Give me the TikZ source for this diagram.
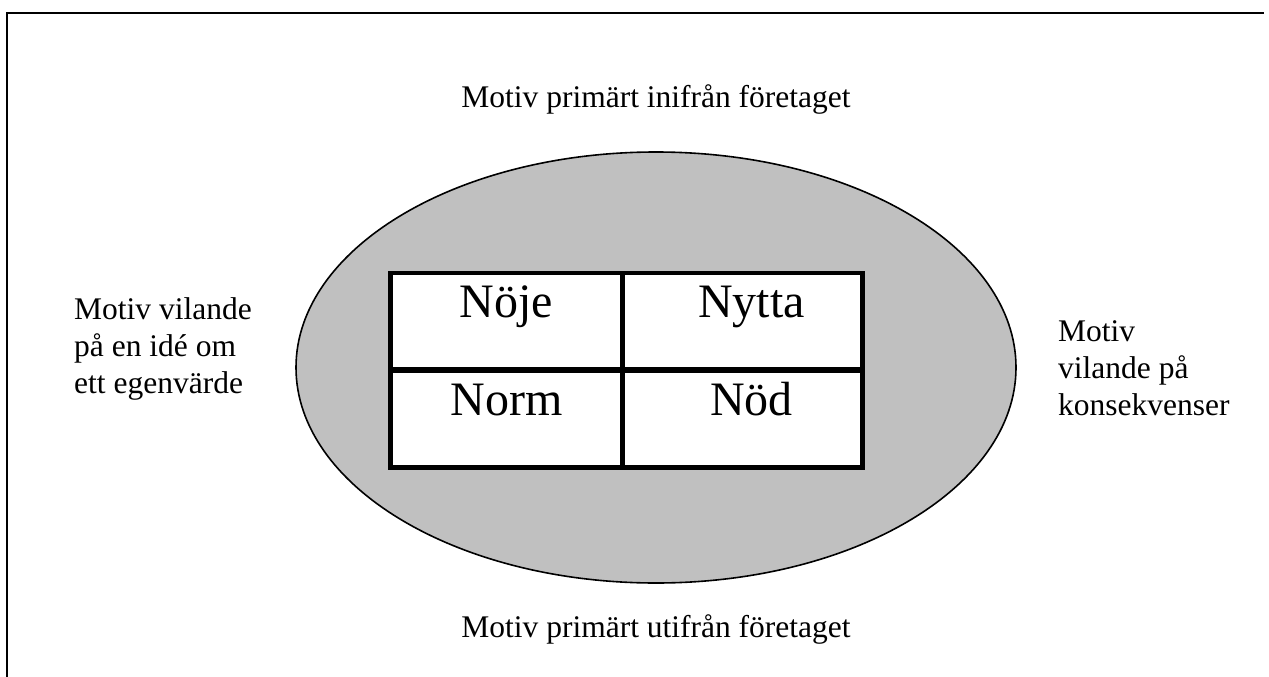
\documentclass[tikz,border=0pt]{standalone}
\usepackage{fontspec}
\setmainfont{Liberation Serif}
\usetikzlibrary{shapes.geometric}
\definecolor{ovalgray}{HTML}{C0C0C0}
\begin{document}
\begin{tikzpicture}[x=1pt,y=-1pt,
  frameline/.style={line width=2pt},
  oval/.style={ellipse, draw=black, line width=1.6pt, fill=ovalgray,
    minimum width=720pt, minimum height=431pt, inner sep=0pt},
  cell/.style={draw=black, line width=4.5pt, fill=white, inner sep=0pt,
    minimum height=96.5pt},
  celltext/.style={font=\fontsize{48}{52}\selectfont, anchor=base, inner sep=0pt},
  side/.style={font=\fontsize{31.5}{37}\selectfont, align=left, anchor=base west, inner sep=0pt},
  axis/.style={font=\fontsize{31.5}{37}\selectfont, anchor=base, inner sep=0pt}]
  \useasboundingbox (0,0) rectangle (1269,677);

  % outer frame (only left and top edges fall inside the page)
  \coordinate (frameBL) at (7,677);
  \coordinate (frameTL) at (7,13);
  \coordinate (frameTR) at (1264,13);
  \draw[frameline] (frameBL) -- (frameTL) -- (frameTR);

  % grey oval
  \node[oval] (oval) at (656,367.5) {};

  % 2x2 table
  \node[cell, minimum width=232pt] (c11) at (506.5,321) {};
  \node[cell, minimum width=240pt] (c12) at (742.5,321) {};
  \node[cell, minimum width=232pt] (c21) at (506.5,419.25) {};
  \node[cell, minimum width=240pt] (c22) at (742.5,419.25) {};

  \node[celltext] (t11) at ([yshift=-47pt]c11.north) {Nöje};
  \node[celltext] (t12) at ([xshift=9pt,yshift=-47pt]c12.north) {Nytta};
  \node[celltext] (t21) at ([yshift=-47pt]c21.north) {Norm};
  \node[celltext] (t22) at ([xshift=9pt,yshift=-47pt]c22.north) {Nöd};

  % axis labels (side blocks are anchored at the baseline of their last line)
  \node[axis] (top) at (656,107) {Motiv primärt inifrån företaget};
  \node[axis] (bottom) at (656,637) {Motiv primärt utifrån företaget};
  \node[side] (left) at (74,393.3) {Motiv vilande\\på en idé om\\ett egenvärde};
  \node[side] (right) at (1058,415.7) {Motiv\\vilande på\\konsekvenser};
\end{tikzpicture}
\end{document}
